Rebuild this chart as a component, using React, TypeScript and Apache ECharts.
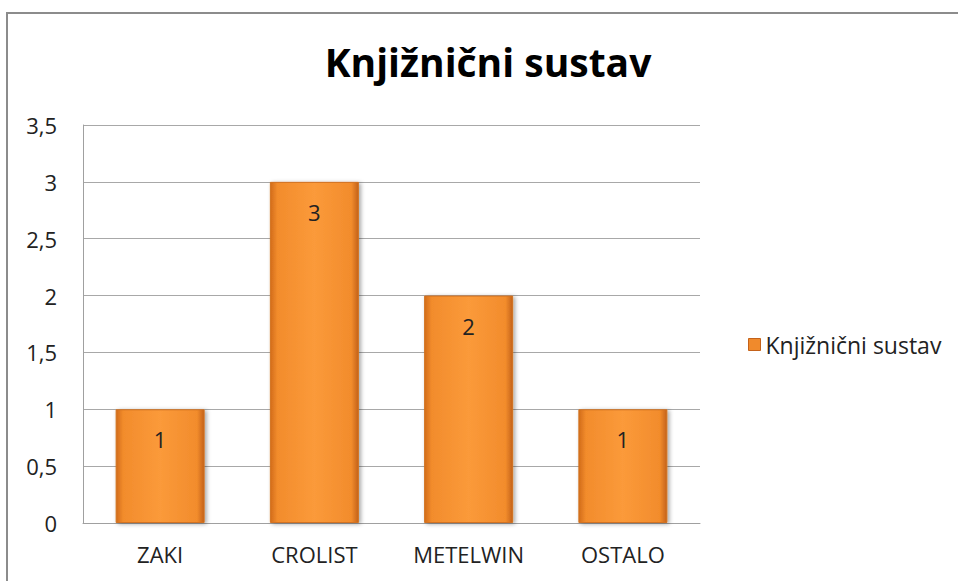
import React, { useEffect, useRef } from "react";
import * as echarts from "echarts";

const categories = ["ZAKI", "CROLIST", "METELWIN", "OSTALO"];
const values = [1, 3, 2, 1];
const seriesName = "Knjižnični sustav";
const titleText = "Knjižnični sustav";

export default function App() {
  const ref = useRef<HTMLDivElement>(null);
  useEffect(() => {
    if (!ref.current) return;
    const chart = echarts.init(ref.current, undefined, { renderer: "svg" });
    const font = "'Open Sans', 'Noto Sans', sans-serif";
    const barColor = new echarts.graphic.LinearGradient(0, 0, 1, 0, [
      { offset: 0, color: "#d26c1a" },
      { offset: 0.08, color: "#f28c2c" },
      { offset: 0.5, color: "#fb9a3a" },
      { offset: 0.92, color: "#f28c2c" },
      { offset: 1, color: "#c4621a" },
    ]);
    chart.setOption({
      animation: false,
      backgroundColor: "#ffffff",
      title: {
        text: titleText,
        left: 483,
        top: 37,
        textAlign: "center",
        textStyle: { fontFamily: font, fontSize: 39, fontWeight: "bold", color: "#000" },
      },
      legend: {
        left: 743,
        top: 328,
        itemWidth: 12,
        itemHeight: 12,
        icon: "rect",
        itemGap: 6,
        textStyle: { fontFamily: font, fontSize: 23, color: "#222" },
        data: [{ name: seriesName, itemStyle: { color: "#f08a2c", borderColor: "#c4621a", borderWidth: 1 } }],
      },
      graphic: [
        {
          type: "rect",
          shape: { x: 7, y: 13, width: 1200, height: 1200 },
          style: { fill: "none", stroke: "#8c8c8c", lineWidth: 2 },
          silent: true,
        },
      ],
      grid: { left: 83, right: 258, top: 125, bottom: 58, containLabel: false },
      xAxis: {
        type: "category",
        data: categories,
        axisLine: { show: true, lineStyle: { color: "#a0a0a0", width: 1 } },
        axisTick: { show: false },
        axisLabel: { fontFamily: font, fontSize: 22, color: "#222", margin: 20 },
      },
      yAxis: {
        type: "value",
        min: 0,
        max: 3.5,
        interval: 0.5,
        axisLine: { show: true, lineStyle: { color: "#a0a0a0", width: 1 } },
        axisTick: { show: false },
        splitLine: { show: true, lineStyle: { color: "#a8a8a8", width: 1 } },
        axisLabel: {
          fontFamily: font,
          fontSize: 22,
          color: "#222",
          margin: 26,
          formatter: (v: number) => String(v).replace(".", ","),
        },
      },
      series: [
        {
          name: seriesName,
          type: "bar",
          data: values,
          barWidth: 89,
          itemStyle: {
            color: barColor,
            borderColor: "#d27220",
            borderWidth: 1,
            shadowColor: "rgba(0,0,0,0.35)",
            shadowBlur: 4,
            shadowOffsetX: 2,
            shadowOffsetY: 1,
          },
          label: {
            show: true,
            position: "insideTop",
            distance: 19,
            fontFamily: font,
            fontSize: 22,
            color: "#222",
          },
        },
      ],
    });
    return () => chart.dispose();
  }, []);
  return (
    <div
      ref={ref}
      style={{ position: "fixed", left: 0, top: 0, width: 958, height: 581 }}
    />
  );
}
